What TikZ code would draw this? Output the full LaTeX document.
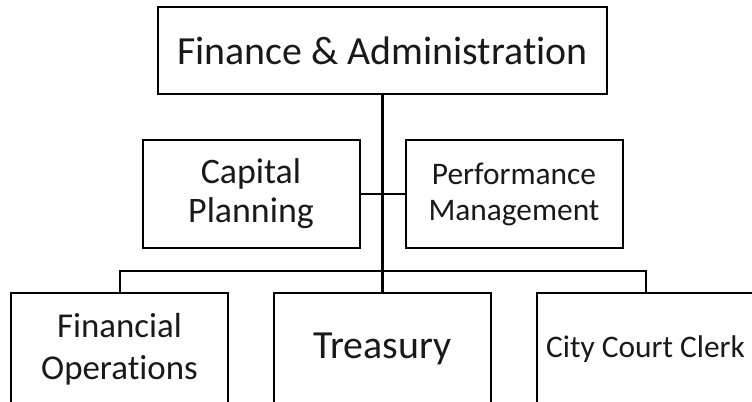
\documentclass[tikz,border=0pt]{standalone}
\usepackage{fontspec}
\setmainfont{Carlito}[Ligatures=NoCommon]
\usetikzlibrary{positioning}

\tikzset{
    unit/.style={draw, line width=2bp, minimum width=217bp,
        minimum height=108bp, align=center, inner sep=2bp,
        text=black!90},
    link/.style={line width=2bp},
    trunk/.style={line width=3bp}
}

\begin{document}
\begin{tikzpicture}[x=1bp, y=-1bp]

\useasboundingbox (0,0) rectangle (752,401);

% Head office
\node[unit, minimum width=449bp, minimum height=87bp,
    font=\fontsize{40}{44}\selectfont]
    (fa) at (382.5,50.5) {Finance \& Administration};

% Staff units
\node[unit, font=\fontsize{36}{39}\selectfont]
    (cap) at (251,194) {Capital\\Planning};
\node[unit, font=\fontsize{31.5}{36}\selectfont]
    (perf) at (514,194) {Performance\\Management};

% Divisions
\node[unit, minimum height=112bp, font=\fontsize{35}{42}\selectfont]
    (finops) at (119.5,349) {Financial\\Operations};
\node[unit, minimum height=112bp, font=\fontsize{40}{44}\selectfont]
    (treas) at (382.5,349) {Treasury};
\node[unit, minimum height=112bp, font=\fontsize{31.5}{36}\selectfont]
    (clerk) at (645.5,349) {City Court Clerk};

% Connectors
\coordinate (bus) at (382.5,271);
\draw[trunk] (fa.south) -- (treas.north);
\draw[link] (cap.east) -- (perf.west);
\draw[link] (finops.north) |- (bus) -| (clerk.north);

\end{tikzpicture}
\end{document}
